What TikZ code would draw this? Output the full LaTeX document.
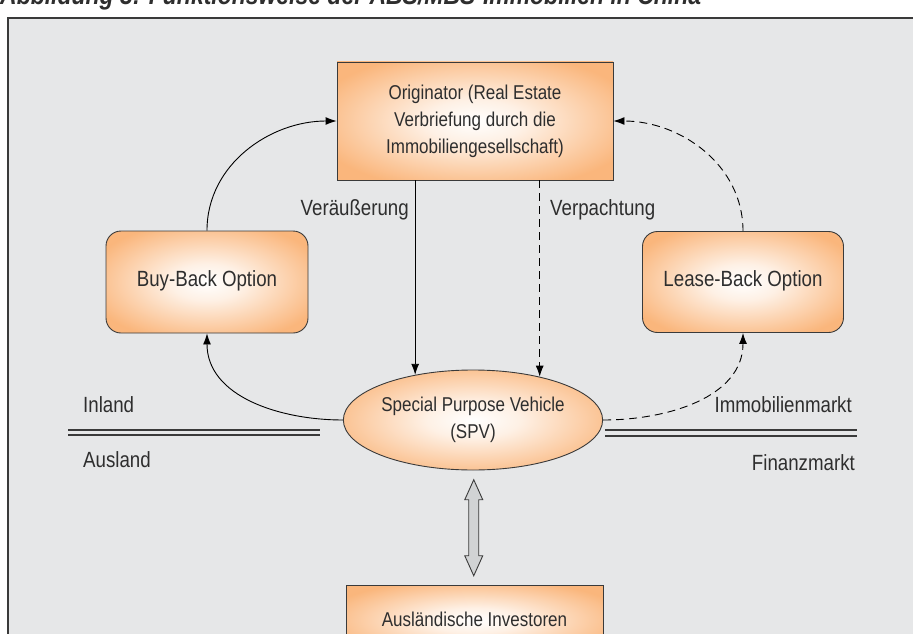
\documentclass[tikz,border=0pt]{standalone}
\usepackage{fontspec}
\setmainfont[FakeStretch=0.85]{Liberation Sans}
\usetikzlibrary{arrows.meta,shapes.geometric,calc}
\definecolor{bgGray}{HTML}{E6E7E8}
\definecolor{boxOrange}{HTML}{FAB67C}
\definecolor{lineDark}{HTML}{3A3A3A}
\definecolor{txtDark}{HTML}{2E2E2E}
\definecolor{arrGray}{HTML}{D1D3D4}
\pgfdeclareradialshading{glow}{\pgfpoint{0bp}{0bp}}{color(0bp)=(white); color(9bp)=(white!80!boxOrange); color(30bp)=(boxOrange); color(50bp)=(boxOrange)}
\begin{document}
\begin{tikzpicture}[x=1pt,y=1pt,
  box/.style={draw=lineDark, line width=0.9pt, shading=glow, text=txtDark, align=center, inner sep=0pt},
  lbl/.style={text=txtDark, inner sep=0pt, font=\fontsize{22}{26}\selectfont},
  conn/.style={draw=black, line width=0.9pt, -{Latex[length=11pt,width=8pt]}},
  dconn/.style={conn, dash pattern=on 8pt off 5pt},
  sepline/.style={draw=lineDark, line width=1.3pt}
]
\useasboundingbox (0,0) rectangle (913,-634);
\clip (0,0) rectangle (913,-634);
% title (cut off at top, as in the reference)
\node[anchor=base west, inner sep=0pt, text=txtDark, font=\fontsize{27}{30}\selectfont\bfseries\itshape] (title) at (0,-5) {Abbildung 3: Funktionsweise der ABS/MBS-Immobilien in China};
% frame
\draw[draw=lineDark, line width=1.2pt, fill=bgGray] (8,-18) rectangle (940,-670);
% nodes
\node[box, minimum width=276, minimum height=118, font=\fontsize{20}{27}\selectfont] (orig) at (475,-121) {Originator (Real Estate\\Verbriefung durch die\\Immobiliengesellschaft)};
\node[box, rounded corners=15pt, minimum width=202, minimum height=102, font=\fontsize{22}{26}\selectfont] (buy) at (207,-282) {\raisebox{7pt}{Buy-Back Option}};
\node[box, rounded corners=15pt, minimum width=201, minimum height=101, font=\fontsize{22}{26}\selectfont] (lease) at (743,-282) {\raisebox{7pt}{Lease-Back Option}};
\node[box, ellipse, minimum width=254, minimum height=100, font=\fontsize{20}{27}\selectfont] (spv) at (473,-420) {\raisebox{-6pt}{\begin{tabular}{@{}c@{}}Special Purpose Vehicle\\(SPV)\end{tabular}}};
\node[box, anchor=north, minimum width=257, minimum height=70, font=\fontsize{20}{27}\selectfont] (inv) at (474.5,-585) {\raisebox{2pt}{Ausländische Investoren}};
% labels
\node[lbl, anchor=base east] (lv) at (409,-215) {Veräußerung};
\node[lbl, anchor=base west] (lp) at (550,-215) {Verpachtung};
\node[lbl, anchor=base west] (lin) at (83,-412) {Inland};
\node[lbl, anchor=base west] (laus) at (83,-467) {Ausland};
\node[lbl, anchor=base east] (limm) at (852,-412) {Immobilienmarkt};
\node[lbl, anchor=base east] (lfin) at (855,-470) {Finanzmarkt};
% separator lines
\draw[sepline] (68,-430) -- (320,-430);
\draw[sepline] (68,-435) -- (320,-435);
\draw[sepline] (605,-430) -- (857,-430);
\draw[sepline] (605,-436) -- (857,-436);
% connectors
\draw[conn] (buy.north) to[out=90,in=180] (orig.west);
\draw[conn] (spv.west) to[out=180,in=-90] (buy.south);
\draw[dconn] (lease.north) to[out=90,in=0] (orig.east);
\draw[dconn] (spv.east) to[out=0,in=-90] (lease.south);
\draw[conn] (spv.142 |- orig.south) -- (spv.142);
\draw[dconn] (spv.33.4 |- orig.south) -- (spv.33.4);
% double arrow between SPV and investors
\coordinate (dbl) at ($(spv.south)!0.5!(inv.north)$);
\draw[draw=lineDark, line width=0.9pt, fill=arrGray]
  ($(dbl)+(0,48)$) -- ($(dbl)+(9,28)$) -- ($(dbl)+(5,28)$) -- ($(dbl)+(5,-28)$) -- ($(dbl)+(9,-28)$)
  -- ($(dbl)+(0,-48)$) -- ($(dbl)+(-9,-28)$) -- ($(dbl)+(-5,-28)$) -- ($(dbl)+(-5,28)$) -- ($(dbl)+(-9,28)$) -- cycle;
\end{tikzpicture}
\end{document}
